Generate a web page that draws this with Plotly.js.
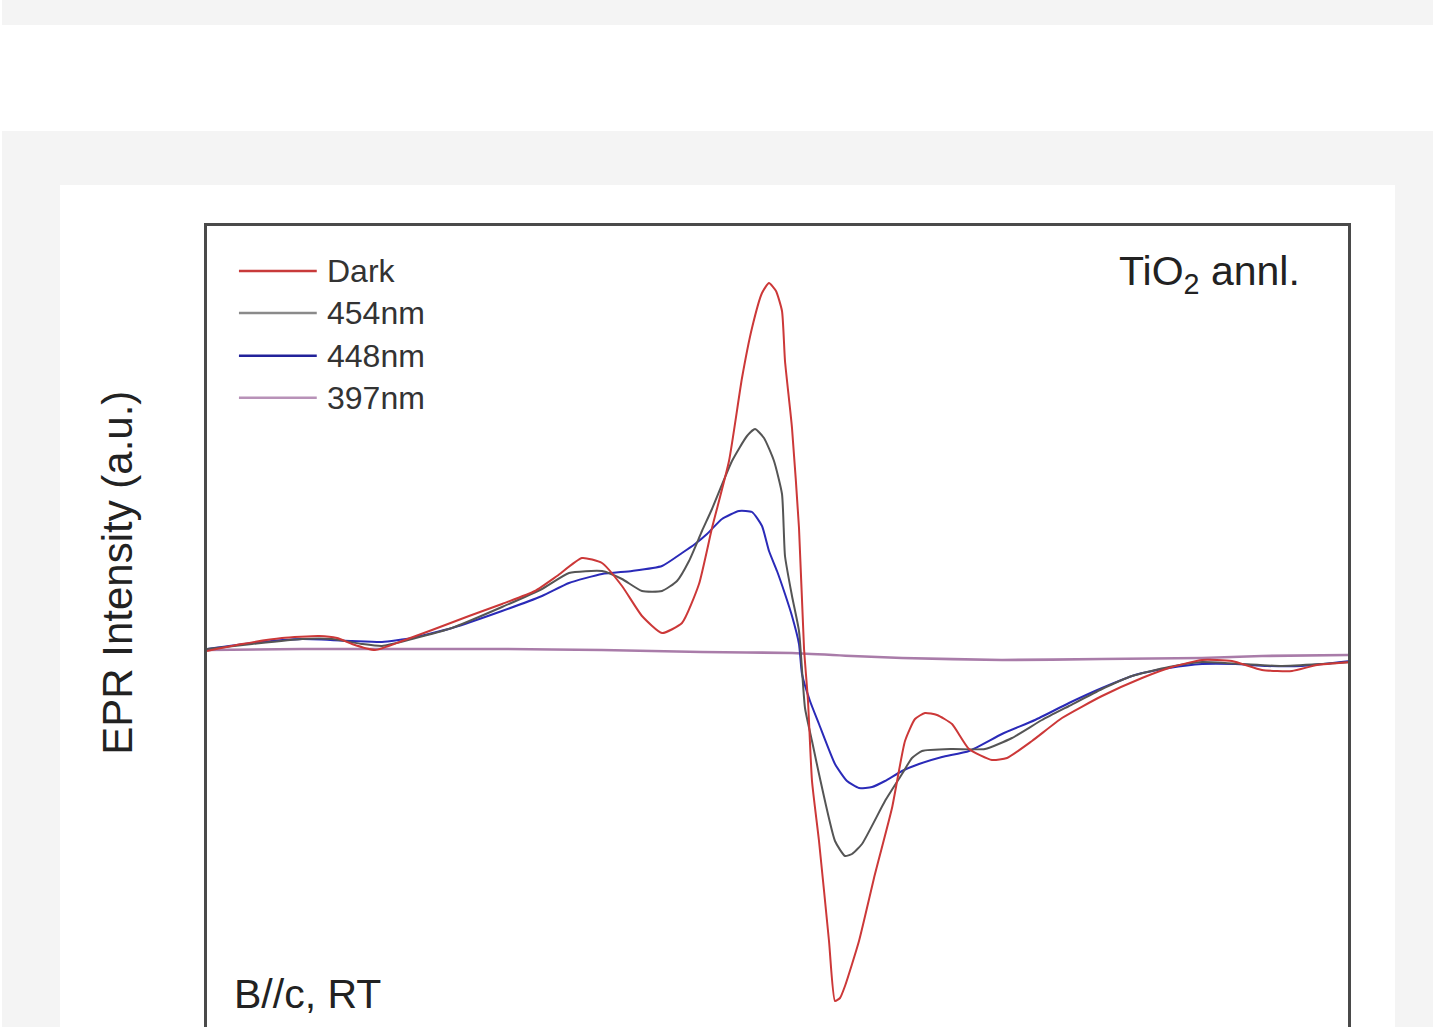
<!DOCTYPE html>
<html>
<head>
<meta charset="utf-8">
<script src="https://cdn.plot.ly/plotly-3.0.1.min.js"></script>
<style>
  html, body { margin: 0; padding: 0; width: 1433px; height: 1027px; overflow: hidden; background: #ffffff; }
  #topbar { position: absolute; left: 2px; top: 0; width: 1431px; height: 25px; background: #f4f4f4; }
  #card { position: absolute; left: 2px; top: 131px; width: 1431px; height: 900px; background: #f4f4f4; }
  #panel { position: absolute; left: 60px; top: 185px; width: 1335px; height: 900px; background: #ffffff; }
  #chart { position: absolute; left: 60px; top: 185px; width: 1335px; height: 900px; }
</style>
</head>
<body>
<div id="topbar"></div>
<div id="card"></div>
<div id="panel"></div>
<div id="chart"></div>
<script>
// Field offset (arbitrary units) and EPR intensity (a.u.)
const darkX = [0,35,75,112,130,145,168,195,225,262,295,328,350,375,395,415,435,455,475,492,505,522,535,545,555,562,569,575,578,585,592,597,601,605,612,622,628,633,638,652,668,685,698,708,718,730,745,762,785,800,825,855,895,935,965,995,1025,1055,1085,1110,1144];
const darkY = [0,7,13,15,13,7,1,10,21,35,47,60,75,93,88,65,35,18,28,67,123,190,273,323,358,368,360,340,290,223,123,3,-50,-130,-190,-290,-350,-347,-335,-290,-223,-157,-90,-68,-62,-64,-73,-98,-109,-107,-90,-67,-45,-27,-16,-9,-10,-19,-20,-14,-11];

const nm454X = [0,45,95,125,155,175,205,245,295,335,362,395,415,435,455,470,482,495,505,525,540,548,557,567,575,578,585,592,598,605,612,628,638,645,655,678,695,705,715,745,778,805,835,862,895,925,962,995,1035,1075,1115,1144];
const nm454Y = [2,7,12,12,7,5,12,23,44,62,78,80,72,60,60,70,90,120,142,190,215,222,213,190,157,95,55,20,-57,-90,-123,-190,-205,-203,-193,-150,-123,-107,-100,-98,-98,-87,-69,-55,-38,-25,-16,-11,-13,-15,-13,-11];

const nm448X = [0,45,95,145,175,205,245,295,335,362,395,425,455,475,488,500,515,532,545,555,562,570,578,585,592,595,603,612,628,640,652,665,678,695,712,735,762,795,828,862,895,928,962,995,1028,1060,1095,1144];
const nm448Y = [2,8,12,10,9,13,23,40,55,68,77,80,85,98,107,117,132,140,139,125,100,80,57,35,7,-23,-50,-73,-113,-130,-137,-136,-130,-120,-113,-106,-100,-83,-69,-52,-37,-24,-17,-13,-13,-15,-15,-10];

const nm397X = [0,95,195,295,395,495,585,645,695,795,895,995,1055,1144];
const nm397Y = [1,2,2,2,1,-1,-2,-5,-7,-9,-8,-7,-5,-4];

const seriesNames = ["Dark", "454nm", "448nm", "397nm"];
const seriesColors = ["#cc3838", "#555555", "#2a2ab8", "#a97ca9"];
const seriesWidths = [2, 2, 2, 2.6];
const legendColors = ["#c83a3a", "#8a8a8a", "#22229a", "#b892b8"];

const xs = [darkX, nm454X, nm448X, nm397X];
const ys = [darkY, nm454Y, nm448Y, nm397Y];

const traces = [3, 2, 1, 0].map(i => ({
  type: "scatter",
  mode: "lines",
  name: seriesNames[i],
  x: xs[i],
  y: ys[i],
  line: { color: seriesColors[i], width: seriesWidths[i], shape: "spline", smoothing: 0.5 },
  hoverinfo: "skip",
  showlegend: false
}));

const font = { family: "Liberation Sans, Arial, sans-serif", color: "#222222" };

const legendY = [0.9461, 0.8958, 0.8443, 0.7940];
const shapes = legendY.map((y, i) => ({
  type: "line", xref: "paper", yref: "paper",
  x0: 0.028, x1: 0.0962, y0: y, y1: y,
  line: { color: legendColors[i], width: 2.5 }
}));

const annotations = legendY.map((y, i) => ({
  xref: "paper", yref: "paper", x: 0.1032, y: y,
  xanchor: "left", yanchor: "middle", showarrow: false,
  text: seriesNames[i],
  font: Object.assign({}, font, { size: 32, color: "#333333" })
}));
annotations.push({
  xref: "paper", yref: "paper", x: 0.9598, y: 0.9425,
  xanchor: "right", yanchor: "middle", showarrow: false,
  text: "TiO<sub>2</sub> annl.",
  font: Object.assign({}, font, { size: 41 })
});
annotations.push({
  xref: "paper", yref: "paper", x: 0.0219, y: 0.079,
  xanchor: "left", yanchor: "middle", showarrow: false,
  text: "B//c, RT",
  font: Object.assign({}, font, { size: 41 })
});
annotations.push({
  xref: "paper", yref: "paper", x: -0.0787, y: 0.5844,
  xanchor: "center", yanchor: "middle", showarrow: false,
  textangle: -90,
  text: "EPR Intensity (a.u.)",
  font: Object.assign({}, font, { size: 42 })
});

const layout = {
  width: 1335, height: 900,
  margin: { l: 147, r: 47, t: 41, b: 25, pad: 0 },
  paper_bgcolor: "rgba(0,0,0,0)",
  plot_bgcolor: "#ffffff",
  showlegend: false,
  xaxis: {
    range: [0, 1141], showgrid: false, zeroline: false,
    showline: true, mirror: true, linecolor: "#4a4a4a", linewidth: 3,
    ticks: "", showticklabels: false
  },
  yaxis: {
    range: [-409, 425], showgrid: false, zeroline: false,
    showline: true, mirror: true, linecolor: "#4a4a4a", linewidth: 3,
    ticks: "", showticklabels: false
  },
  shapes: shapes,
  annotations: annotations
};

Plotly.newPlot("chart", traces, layout, { staticPlot: true, displayModeBar: false });
</script>
</body>
</html>
